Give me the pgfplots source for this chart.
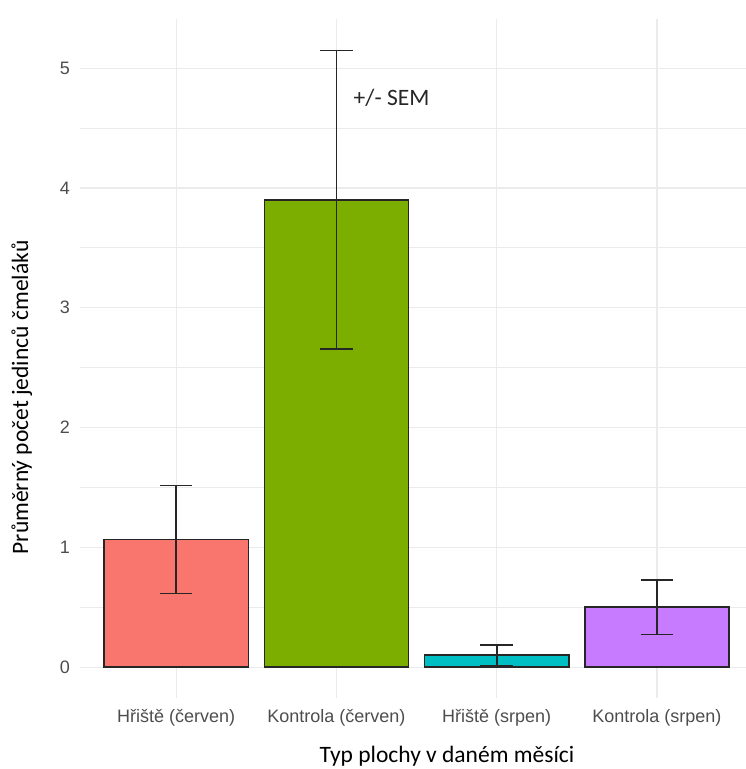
\documentclass[border=0pt]{standalone}
\usepackage{fontspec}
\setmainfont{Carlito}
\newfontfamily\arial{Liberation Sans}
\usepackage{pgfplots}
\pgfplotsset{compat=1.18}
\definecolor{ggred}{HTML}{F8766D}
\definecolor{gggreen}{HTML}{7CAE00}
\definecolor{ggcyan}{HTML}{00BFC4}
\definecolor{ggpurple}{HTML}{C77CFF}
\definecolor{gridc}{HTML}{EBEBEB}
\definecolor{tickc}{HTML}{4D4D4D}
\pgfplotsset{
	sembar/.style={ybar, bar width=0.9, bar shift=0, fill=#1, draw=black!85, line width=1.5bp,
		error bars/.cd, y dir=both, y explicit,
		error bar style={black!85, line width=1.7bp},
		error mark options={black!85, line width=1.7bp, mark size=16.3bp, rotate=90}},
}
\begin{document}
\begin{tikzpicture}
\useasboundingbox (0,0) rectangle (746bp,769bp);
\begin{axis}[
	at={(80bp,71bp)}, anchor=south west,
	scale only axis,
	width=666bp, height=679bp,
	xmin=0.4, xmax=4.556,
	ymin=-0.2575, ymax=5.41,
	axis line style={draw=none},
	tick style={draw=none},
	major tick length=0pt,
	xtick={1,2,3,4},
	xticklabels={Hřiště (červen), Kontrola (červen), Hřiště (srpen), Kontrola (srpen)},
	ytick={0,1,2,3,4,5},
	minor ytick={0.5,1.5,2.5,3.5,4.5},
	xmajorgrids, ymajorgrids, yminorgrids,
	major grid style={gridc, line width=1.2bp},
	minor grid style={gridc, line width=0.8bp},
	/pgf/number format/assume math mode=true,
	tick label style={font=\arial\fontsize{18bp}{21bp}\selectfont, text=tickc, inner sep=0pt},
	xticklabel shift=11bp,
	yticklabel shift=10bp,
	xlabel={Typ plochy v daném měsíci},
	ylabel={Průměrný počet jedinců čmeláků},
	label style={font=\fontsize{23.5bp}{27bp}\selectfont, inner sep=0pt},
	xlabel style={at={(rel axis cs:0.551,-0.0957)}, anchor=base},
	ylabel style={at={(rel axis cs:-0.078,0.4426)}, anchor=base},
]
% mean +/- SEM for each group
\addplot[sembar=ggred] coordinates {(1,1.065) +- (0,0.45)};
\addplot[sembar=gggreen] coordinates {(2,3.90) +- (0,1.246)};
\addplot[sembar=ggcyan] coordinates {(3,0.10) +- (0,0.085)};
\addplot[sembar=ggpurple] coordinates {(4,0.50) +- (0,0.227)};
\node[anchor=base west, inner sep=0pt, text=black!85, font=\fontsize{23.5bp}{27bp}\selectfont]
	at (axis cs:2.107,4.691) {+/- SEM};
\end{axis}
\end{tikzpicture}
\end{document}
